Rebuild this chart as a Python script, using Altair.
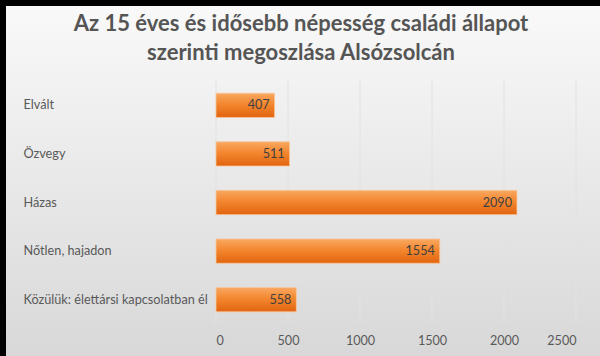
import altair as alt
import pandas as pd

categories = ["Elvált", "Özvegy", "Házas", "Nőtlen, hajadon", "Közülük: élettársi kapcsolatban él"]
values = [407, 511, 2090, 1554, 558]
grid_values = [0, 500, 1000, 1500, 2000, 2500]
title_lines = ["Az 15 éves és idősebb népesség családi állapot", "szerinti megoszlása Alsózsolcán"]

df = pd.DataFrame({"cat": categories, "val": values})
grid_df = pd.DataFrame({"g": grid_values})
bg_df = pd.DataFrame({"a": [0]})

FONT = "Lato"

bg = alt.Chart(bg_df).mark_rect(
    fill=alt.LinearGradient(
        gradient="linear", x1=0, x2=0, y1=0, y2=1,
        stops=[alt.GradientStop(color="#f9f9f9", offset=0),
               alt.GradientStop(color="#d8d8d8", offset=1)]
    )
).encode(x=alt.value(-210), x2=alt.value(384), y=alt.value(-75), y2=alt.value(275))

xscale = alt.Scale(domain=[0, 2500], nice=False)

grid = alt.Chart(grid_df).mark_rule(color="#e2e2e2", strokeWidth=1).encode(
    x=alt.X("g:Q", scale=xscale)
)

bars = alt.Chart(df).mark_bar(
    fill=alt.LinearGradient(
        gradient="linear", x1=0, x2=0, y1=0, y2=1,
        stops=[alt.GradientStop(color="#f9a862", offset=0),
               alt.GradientStop(color="#f3872f", offset=0.45),
               alt.GradientStop(color="#e2640f", offset=1)]
    ),
    stroke="#f8c9a0", strokeWidth=0.8
).encode(
    x=alt.X("val:Q", scale=xscale,
            axis=alt.Axis(values=grid_values, format="d", grid=False, domain=False, ticks=False,
                          labelFont=FONT, labelFontSize=12.6, labelColor="#595959",
                          labelPadding=10, title=None, zindex=1)),
    y=alt.Y("cat:N", sort=categories,
            scale=alt.Scale(paddingInner=0.5, paddingOuter=0.25),
            axis=alt.Axis(domain=False, ticks=False, grid=False, labelAlign="left",
                          labelPadding=193, labelLimit=300, labelFont=FONT,
                          labelFontSize=12.7, labelColor="#595959", title=None, zindex=1))
)

labels = alt.Chart(df).mark_text(
    align="right", baseline="middle", dx=-5, font=FONT, fontSize=12.6, color="#404040"
).encode(
    x=alt.X("val:Q", scale=xscale),
    y=alt.Y("cat:N", sort=categories),
    text=alt.Text("val:Q")
)

title1 = alt.Chart(pd.DataFrame({"t": [title_lines[0]]})).mark_text(
    align="center", baseline="middle", font=FONT, fontSize=22, fontWeight="bold", color="#555555"
).encode(x=alt.value(85), y=alt.value(-57), text="t:N")

title2 = alt.Chart(pd.DataFrame({"t": [title_lines[1]]})).mark_text(
    align="center", baseline="middle", font=FONT, fontSize=22, fontWeight="bold", color="#555555"
).encode(x=alt.value(85), y=alt.value(-28), text="t:N")

chart = alt.layer(bg, grid, bars, labels, title1, title2).properties(
    width=360, height=243,
    background="#000000",
    padding={"left": 216, "top": 81, "right": 24, "bottom": 32},
    autosize=alt.AutoSizeParams(type="none"),
).configure_view(stroke=None)

chart.save("out.html", embed_options={"renderer": "svg", "actions": False})
